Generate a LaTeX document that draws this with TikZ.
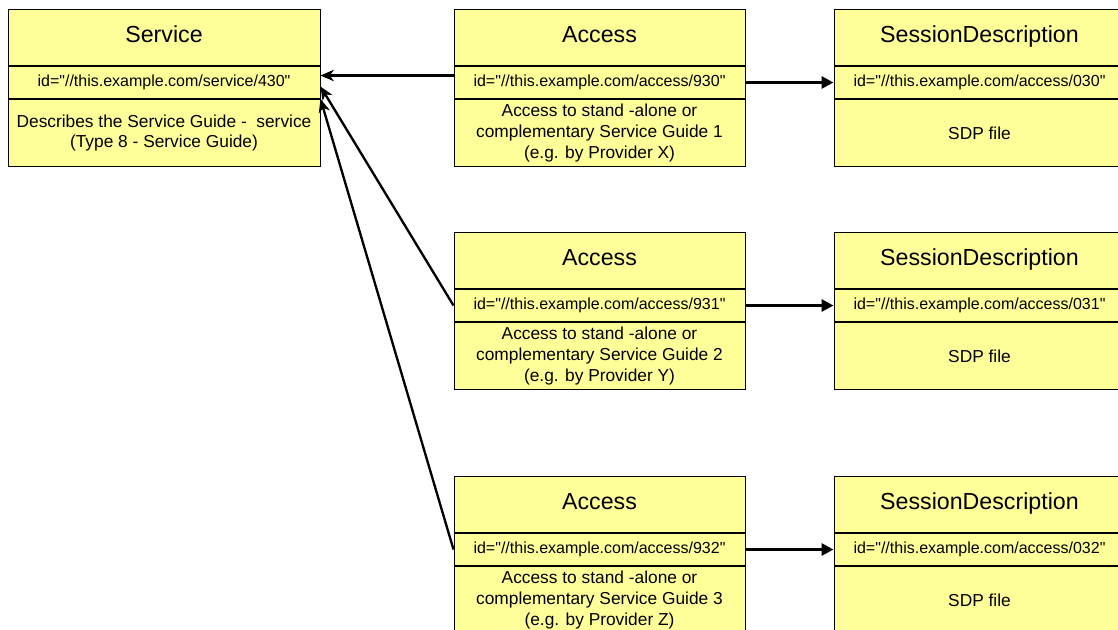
\documentclass[tikz,border=0pt]{standalone}
\usepackage{fontspec}
\newfontfamily\boxfont{Liberation Sans}
\usetikzlibrary{positioning,arrows.meta}

\definecolor{boxyellow}{RGB}{255,255,153}

\tikzset{
  box/.style={draw, fill=boxyellow, line width=0.75pt, inner sep=1pt, align=center},
  wide/.style={minimum width=234pt},
  narrow/.style={minimum width=218.25pt},
  head/.style={box, minimum height=42pt, text depth=4.5pt, font=\boxfont\fontsize{17.4}{20}\selectfont},
  idrow/.style={box, minimum height=24pt, font=\boxfont\fontsize{12}{14}\selectfont},
  desc/.style={box, minimum height=50.25pt, font=\boxfont\fontsize{13}{15.4}\selectfont},
  toservice/.style={-{Stealth[length=10pt,width=8.5pt,inset=3pt]}, line width=1.75pt},
  tosession/.style={-{Triangle[length=9pt,width=9pt]}, line width=2.25pt},
}

\begin{document}
\begin{tikzpicture}[x=0.75pt,y=-0.75pt]
\useasboundingbox (0,0) rectangle (1118,629);

\begin{scope}
\clip (0,0) rectangle (1118,629);

% service
\node[head, wide, anchor=north] (svc-title) at (164,9) {Service};
\node[idrow, wide, below=0pt of svc-title] (svc-id) {id="//this.example.com/service/430"};
\node[desc, wide, below=0pt of svc-id] (svc-desc) {Describes the Service Guide - \ service\\(Type 8 - Service Guide)};

% access
\node[head, narrow, anchor=north] (acc1-title) at (599.5,9) {Access};
\node[idrow, narrow, below=0pt of acc1-title] (acc1-id) {id="//this.example.com/access/930"};
\node[desc, narrow, below=0pt of acc1-id] (acc1-desc) {Access to stand -alone or\\complementary Service Guide 1\\(e.g. by Provider X)};

\node[head, narrow, anchor=north] (acc2-title) at (599.5,232) {Access};
\node[idrow, narrow, below=0pt of acc2-title] (acc2-id) {id="//this.example.com/access/931"};
\node[desc, narrow, below=0pt of acc2-id] (acc2-desc) {Access to stand -alone or\\complementary Service Guide 2\\(e.g. by Provider Y)};

\node[head, narrow, anchor=north] (acc3-title) at (599.5,476) {Access};
\node[idrow, narrow, below=0pt of acc3-title] (acc3-id) {id="//this.example.com/access/932"};
\node[desc, narrow, below=0pt of acc3-id] (acc3-desc) {Access to stand -alone or\\complementary Service Guide 3\\(e.g. by Provider Z)};

% session descriptions
\node[head, narrow, anchor=north] (sd1-title) at (979.5,9) {SessionDescription};
\node[idrow, narrow, below=0pt of sd1-title] (sd1-id) {id="//this.example.com/access/030"};
\node[desc, narrow, below=0pt of sd1-id] (sd1-desc) {SDP file};

\node[head, narrow, anchor=north] (sd2-title) at (979.5,232) {SessionDescription};
\node[idrow, narrow, below=0pt of sd2-title] (sd2-id) {id="//this.example.com/access/031"};
\node[desc, narrow, below=0pt of sd2-id] (sd2-desc) {SDP file};

\node[head, narrow, anchor=north] (sd3-title) at (979.5,476) {SessionDescription};
\node[idrow, narrow, below=0pt of sd3-title] (sd3-id) {id="//this.example.com/access/032"};
\node[desc, narrow, below=0pt of sd3-id] (sd3-desc) {SDP file};

% references
\draw[toservice] ([yshift=5.25pt]acc1-id.west) -- ([yshift=5.25pt]svc-id.east);
\draw[toservice] (acc2-id.west) -- ([yshift=-3pt]svc-id.east);
\draw[toservice] (acc3-id.west) -- (svc-id.south east);

\draw[tosession] (acc1-id.east) -- (sd1-id.west);
\draw[tosession] (acc2-id.east) -- (sd2-id.west);
\draw[tosession] (acc3-id.east) -- (sd3-id.west);
\end{scope}

\end{tikzpicture}
\end{document}
